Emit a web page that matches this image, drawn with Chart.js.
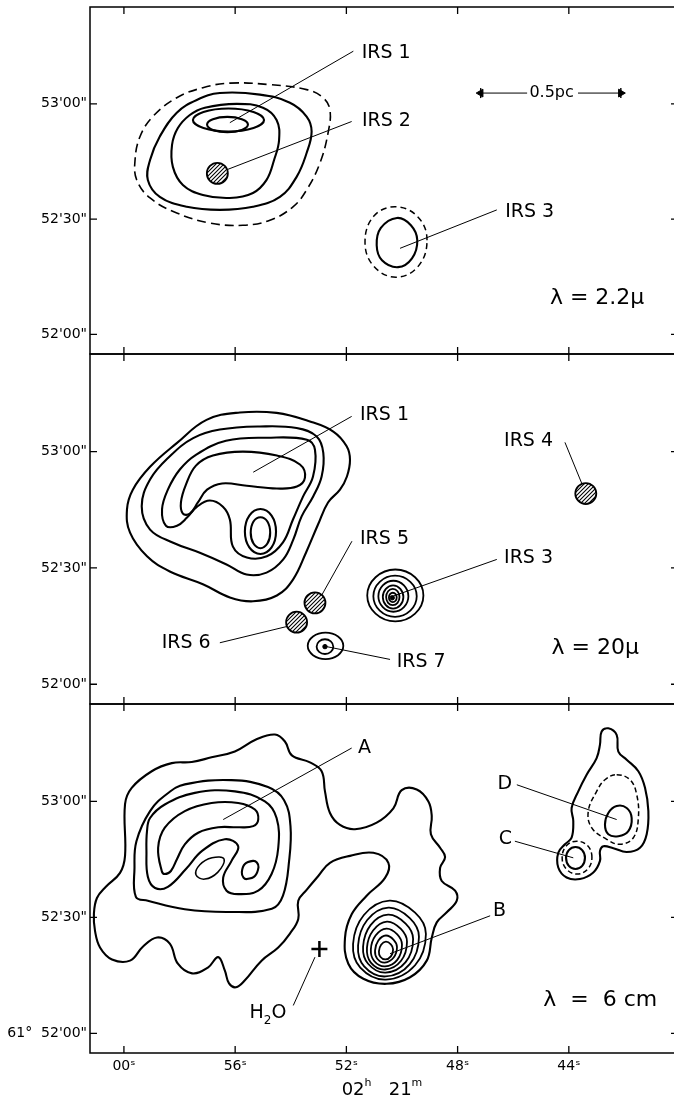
<!DOCTYPE html>
<html>
<head>
<meta charset="utf-8">
<script src="https://cdn.jsdelivr.net/npm/chart.js@4.4.0/dist/chart.umd.min.js"></script>
<style>
  html, body { margin: 0; padding: 0; background: #fff; overflow: hidden; }
  body { width: 674px; height: 1102px; position: relative; }
  canvas { position: absolute; left: 0; }
</style>
</head>
<body>
<canvas id="panel1" width="680" height="356" style="top:0px"></canvas>
<canvas id="panel2" width="680" height="354" style="top:352px"></canvas>
<canvas id="panel3" width="680" height="400" style="top:702px"></canvas>
<script>
// axes: right ascension seconds (02h 21m 00s = 60) and arcsec above 61° 52' 00"
const xTickVals = [60, 56, 52, 48, 44];
const xTickText = ["00", "56", "52", "48", "44"];
const yTickVals = [0, 30, 60];
const yTickText = ["52'00\"", "52'30\"", "53'00\""];
const yTickTextLast = ["61°  52'00\"", "52'30\"", "53'00\""];
const raRange = [40.11, 61.22];
const decRange = [-5.1, 85.2];

// ---- panel 1 : 2.2 micron ----
const p1Dashed = [[56.19,65.4],[54.75,65.0],[53.43,63.7],[52.84,61.6],[52.59,58.4],[52.66,52.4],[52.95,44.6],[53.43,37.6],[53.92,33.2],[54.75,29.7],[55.72,28.4],[56.91,29.0],[58.10,31.6],[59.06,35.5],[59.54,40.2],[59.60,45.4],[59.42,51.5],[58.96,56.7],[58.10,61.6],[57.16,64.2]];
const p1Level1 = [[56.55,62.8],[55.11,62.4],[54.03,60.3],[53.43,56.7],[53.25,52.8],[53.43,47.2],[53.79,41.0],[54.39,35.8],[55.36,33.2],[56.55,32.4],[57.74,33.2],[58.71,35.8],[59.14,40.2],[59.06,45.4],[58.71,51.5],[58.10,57.7],[57.38,61.0]];
const p1Level2 = [[57.09,59.0],[55.94,60.0],[55.00,59.0],[54.51,55.8],[54.42,50.6],[54.60,45.4],[54.87,40.2],[55.36,36.8],[56.19,35.5],[57.16,36.3],[57.88,38.9],[58.24,43.6],[58.27,49.3],[58.06,53.7],[57.63,57.1]];
const p1Level3 = [[54.96,55.8],[55.34,57.9],[56.24,58.8],[57.14,57.9],[57.52,55.8],[57.14,53.7],[56.24,52.8],[55.34,53.7]];
const p1Level4 = [[55.54,54.6],[55.76,56.0],[56.28,56.6],[56.80,56.0],[57.01,54.6],[56.80,53.2],[56.28,52.6],[55.76,53.2]];
const p1Irs3Solid = [[49.45,24.5],[49.68,28.4],[50.18,30.3],[50.76,27.7],[50.91,23.2],[50.72,19.3],[50.14,17.5],[49.64,19.8]];
const p1Irs3Dashed = [[49.10,24.5],[49.42,30.5],[50.22,33.2],[51.01,30.8],[51.33,24.0],[51.01,17.7],[50.22,14.9],[49.42,17.7]];
const p1Sources = [[56.64,41.9]];
const p1Leaders = [[[56.19,55.1],[51.75,73.7]], [[56.64,41.9],[51.81,55.4]], [[50.07,22.4],[46.59,32.4]]];
const p1Labels = [["IRS 1",51.45,73.3], ["IRS 2",51.44,55.4], ["IRS 3",46.29,31.9]];
const scaleBarEnds = [47.17, 42.13];
const scaleBarGap = [45.50, 43.67];
const scaleBarDec = 62.8;
const scaleBarText = ["0.5pc", 44.62];

// ---- panel 2 : 20 micron ----
const p2Level1 = [[58.10,62.2],[57.03,68.2],[55.83,70.1],[54.51,70.0],[53.31,67.8],[52.47,65.2],[51.99,61.4],[51.87,57.9],[51.98,53.6],[52.23,50.2],[52.66,46.9],[53.02,41.2],[53.45,34.0],[53.92,27.0],[54.50,22.9],[55.36,21.4],[56.19,22.4],[57.16,25.8],[58.35,29.1],[59.17,33.0],[59.78,39.1],[59.89,45.1],[59.68,50.2],[59.06,56.1]];
const p2Level2 = [[57.51,63.5],[56.55,65.7],[55.11,66.5],[53.79,66.1],[53.07,63.9],[52.83,59.7],[52.89,53.6],[53.19,48.5],[53.61,43.3],[53.91,37.3],[54.27,32.2],[54.87,28.8],[55.59,28.3],[56.31,30.9],[57.27,33.9],[58.23,36.5],[59.06,39.9],[59.36,45.9],[59.06,52.8],[58.35,58.8]];
const p2Level3 = [[58.49,40.9],[58.63,45.1],[58.42,50.2],[57.99,55.4],[57.41,59.2],[56.33,62.8],[54.86,63.6],[53.42,63.1],[53.13,60.5],[53.20,53.6],[53.56,48.4],[53.92,42.5],[54.28,36.6],[54.86,33.0],[55.58,32.7],[56.08,35.5],[56.19,42.5],[56.44,45.8],[56.91,47.4],[57.37,45.8],[57.73,43.0],[58.09,40.9]];
const p2Level4 = [[57.41,56.4],[56.80,59.0],[55.72,60.0],[54.50,59.0],[53.67,56.7],[53.49,53.3],[53.78,51.0],[54.50,50.5],[55.58,51.2],[56.47,51.8],[57.01,50.2],[57.34,46.9],[57.63,44.0],[57.88,44.0],[57.95,46.9],[57.77,51.5]];
const p2Knot = [
  [[54.53,39.4],[54.69,43.5],[55.09,45.2],[55.49,43.5],[55.65,39.4],[55.49,35.3],[55.09,33.6],[54.69,35.3]],
  [[54.74,39.1],[54.84,42.0],[55.09,43.1],[55.34,42.0],[55.44,39.1],[55.34,36.3],[55.09,35.1],[54.84,36.3]]
];
const p2Irs3Rings = [
  [[49.23,22.9],[49.53,27.6],[50.24,29.6],[50.95,27.6],[51.25,22.9],[50.95,18.2],[50.24,16.2],[49.53,18.2]],
  [[49.47,22.7],[49.70,26.4],[50.25,28.0],[50.80,26.4],[51.03,22.7],[50.80,19.0],[50.25,17.4],[49.70,19.0]],
  [[49.77,22.7],[49.93,25.5],[50.31,26.7],[50.69,25.5],[50.85,22.7],[50.69,19.9],[50.31,18.7],[49.93,19.9]],
  [[49.95,22.5],[50.06,24.6],[50.32,25.5],[50.58,24.6],[50.69,22.5],[50.58,20.4],[50.32,19.5],[50.06,20.4]],
  [[50.09,22.5],[50.16,24.0],[50.33,24.6],[50.50,24.0],[50.57,22.5],[50.50,21.0],[50.33,20.4],[50.16,21.0]],
  [[50.19,22.4],[50.23,23.25],[50.33,23.6],[50.43,23.25],[50.47,22.4],[50.43,21.55],[50.33,21.2],[50.23,21.55]]
];
const p2Irs7Rings = [
  [[52.11,9.9],[52.30,12.3],[52.75,13.3],[53.20,12.3],[53.39,9.9],[53.20,7.5],[52.75,6.5],[52.30,7.5]],
  [[52.47,9.7],[52.56,11.05],[52.77,11.6],[52.98,11.05],[53.07,9.7],[52.98,8.35],[52.77,7.8],[52.56,8.35]]
];
const p2Peaks = [[50.35,22.3],[52.77,9.7]];
const p2Sources = [[53.13,21.0],[53.79,16.0],[43.39,49.2]];
const p2Leaders = [[[55.35,54.7],[51.81,69.1]], [[44.14,62.4],[43.42,49.8]], [[53.01,21.4],[51.80,36.9]], [[50.37,22.6],[46.59,32.2]], [[52.71,9.7],[50.43,6.4]], [[56.55,10.7],[53.79,15.5]]];
const p2Labels = [["IRS 1",51.51,69.5], ["IRS 4",46.33,62.7], ["IRS 5",51.51,37.4], ["IRS 3",46.33,32.5], ["IRS 7",50.19,5.8]];
const p2LabelsRight = [["IRS 6",56.88,10.6]];

// ---- panel 3 : 6 cm ----
const p3Level1 = [[54.57,77.3],[54.21,75.5],[53.96,71.9],[53.31,70.1],[52.89,67.8],[52.77,62.6],[52.59,57.0],[52.23,53.9],[51.69,52.8],[50.91,54.5],[50.31,58.2],[50.01,62.9],[49.47,63.1],[49.05,60.0],[48.93,56.2],[48.96,51.5],[48.63,48.0],[48.45,45.6],[48.63,42.8],[48.57,39.4],[48.09,36.9],[48.03,34.3],[48.39,31.3],[48.75,28.7],[48.93,24.7],[49.11,18.8],[49.71,14.5],[50.55,12.8],[51.39,14.1],[51.93,18.0],[52.05,24.7],[51.81,30.8],[51.27,35.6],[50.61,40.2],[50.49,44.1],[51.03,46.7],[51.87,45.9],[52.59,44.1],[53.01,40.7],[53.43,37.1],[53.73,34.3],[53.73,29.6],[54.03,25.8],[54.45,22.2],[55.05,18.8],[55.65,13.7],[55.97,11.9],[56.22,12.9],[56.37,16.2],[56.61,19.7],[56.98,17.0],[57.55,15.5],[58.06,18.0],[58.35,23.2],[58.81,24.8],[59.32,22.4],[59.78,18.8],[60.43,19.1],[60.86,22.2],[61.04,26.5],[61.08,30.9],[60.97,35.0],[60.65,37.9],[60.14,41.5],[59.96,45.9],[59.96,59.3],[59.72,63.5],[59.00,67.8],[58.28,69.9],[57.56,70.2],[56.85,71.4],[56.01,72.9],[55.25,76.0]];
const p3Level2 = [[57.81,64.4],[56.13,65.5],[54.82,63.7],[54.24,60.3],[54.01,53.6],[54.06,44.6],[54.28,35.6],[54.68,32.2],[56.26,31.4],[57.81,32.1],[59.14,34.3],[59.57,35.3],[59.62,42.8],[59.55,49.7],[59.06,57.5],[58.42,62.1]];
const p3Level3 = [[59.06,55.7],[58.53,59.2],[57.45,62.2],[56.01,62.6],[54.93,60.0],[54.51,55.7],[54.45,48.0],[54.69,41.2],[55.17,36.9],[55.89,36.0],[56.31,36.9],[56.43,40.3],[56.13,44.6],[55.89,48.4],[56.37,50.2],[57.19,47.2],[57.77,42.5],[58.42,37.9],[58.88,37.6],[59.14,40.5],[59.19,47.2],[59.17,52.3]];
const p3Level4 = [[58.64,42.0],[58.77,48.0],[58.53,53.2],[57.81,57.5],[56.85,59.6],[55.89,59.6],[55.29,57.9],[55.17,55.3],[55.35,53.6],[55.89,53.3],[56.61,53.3],[57.33,51.9],[57.81,48.9],[58.09,45.1],[58.31,42.0],[58.53,41.2]];
const p3Knot = [[55.36,44.6],[55.22,44.2],[55.16,43.0],[55.29,40.7],[55.58,39.9],[55.70,40.3],[55.76,41.7],[55.65,43.8]];
const p3Hollow = [[56.40,45.1],[56.83,45.4],[57.27,43.6],[57.41,41.0],[57.09,39.9],[56.62,41.7]];
const p3BRings = [
  [[50.45,34.3],[49.53,31.2],[49.14,25.7],[49.53,17.6],[50.58,13.9],[51.50,17.0],[51.76,23.1],[51.37,30.6]],
  [[50.49,32.5],[49.72,29.8],[49.39,25.0],[49.72,17.9],[50.59,14.7],[51.36,17.3],[51.58,22.7],[51.25,29.3]],
  [[50.50,30.7],[49.87,28.4],[49.60,24.4],[49.87,18.4],[50.59,15.7],[51.22,18.0],[51.40,22.4],[51.13,28.0]],
  [[50.54,28.9],[50.04,27.0],[49.82,23.7],[50.04,18.7],[50.61,16.5],[51.12,18.3],[51.26,22.1],[51.04,26.6]],
  [[50.56,27.1],[50.17,25.6],[50.00,22.9],[50.17,19.0],[50.61,17.3],[51.00,18.7],[51.12,21.7],[50.95,25.3]],
  [[50.58,25.3],[50.30,24.2],[50.18,22.3],[50.30,19.6],[50.62,18.3],[50.89,19.3],[50.97,21.4],[50.85,24.0]],
  [[50.58,23.7],[50.40,23.0],[50.32,21.7],[50.40,19.9],[50.60,19.1],[50.78,19.8],[50.83,21.2],[50.75,22.9]]
];
const p3CDLevel1 = [[42.58,78.9],[42.28,77.2],[42.22,72.9],[41.92,70.8],[41.50,67.8],[41.26,63.5],[41.14,57.5],[41.20,51.5],[41.44,48.0],[41.92,46.9],[42.40,47.9],[42.76,48.4],[42.88,47.2],[42.88,44.6],[43.12,41.6],[43.60,39.9],[44.08,40.3],[44.38,42.9],[44.38,46.7],[44.14,48.9],[43.90,50.6],[43.84,54.9],[43.90,58.3],[43.66,62.6],[43.36,66.9],[43.00,71.2],[42.88,74.7],[42.82,78.1]];
const p3DDashed = [[42.28,66.9],[41.80,65.6],[41.56,61.8],[41.50,55.7],[41.68,50.6],[42.16,48.9],[42.64,50.2],[43.18,53.2],[43.30,57.5],[43.00,62.6],[42.70,65.6]];
const p3DSolid = [[42.28,58.8],[41.92,58.3],[41.74,55.7],[41.86,52.3],[42.22,51.0],[42.58,51.5],[42.70,54.0],[42.58,57.0]];
const p3CDashed = [[43.17,45.5],[43.32,48.5],[43.71,49.7],[44.09,48.5],[44.24,45.5],[44.09,42.5],[43.71,41.2],[43.32,42.5]];
const p3CSolid = [[43.42,45.4],[43.52,47.4],[43.76,48.2],[44.00,47.4],[44.10,45.4],[44.00,43.3],[43.76,42.5],[43.52,43.3]];
const p3Maser = [[52.97,21.8]];
const p3Leaders = [[[56.43,55.3],[51.81,73.8]], [[50.43,20.6],[46.83,30.4]], [[43.84,45.4],[45.94,49.7]], [[42.28,55.3],[45.87,64.3]], [[53.13,19.7],[53.91,7.2]]];
const p3Labels = [["A",51.58,73.8], ["B",46.73,31.7]];
const p3LabelsRight = [["C",46.04,50.2], ["D",46.04,64.4]];
const xTitleAt = [50.72, -14.7];

const lambdas = [["λ = 2.2μ",44.68,9.4], ["λ = 20μ",44.62,9.4], ["λ  =  6 cm",44.92,8.5]];

// ---------------------------------------------------------------
const FONT = '"DejaVu Sans", "Liberation Sans", sans-serif';

function pts(list) {
  return list.map(p => ({ x: p[0], y: p[1] }));
}

// closed contour: wrap the ends so the spline is smooth all round, hide the two wrap segments
function contour(list, extra) {
  const p = pts(list);
  const d = [p[p.length - 1], ...p, p[0], p[1]];
  return Object.assign({
    data: d, showLine: true, pointRadius: 0, borderColor: "#000", borderWidth: 2.1, tension: 0.4,
    segment: {
      borderColor: ctx => (ctx.p0DataIndex === 0 || ctx.p1DataIndex === d.length - 1) ? "rgba(0,0,0,0)" : undefined
    }
  }, extra || {});
}

function leader(seg) {
  return { data: pts(seg), showLine: true, pointRadius: 0, borderColor: "#000", borderWidth: 1, tension: 0 };
}

let hatchPattern = null;
function hatch() {
  if (hatchPattern) return hatchPattern;
  const c = document.createElement("canvas");
  c.width = 4; c.height = 4;
  const g = c.getContext("2d");
  g.fillStyle = "#fff"; g.fillRect(0, 0, 4, 4);
  g.strokeStyle = "#000"; g.lineWidth = 1.1;
  g.beginPath();
  g.moveTo(0, 4); g.lineTo(4, 0);
  g.moveTo(-1, 1); g.lineTo(1, -1);
  g.moveTo(3, 5); g.lineTo(5, 3);
  g.stroke();
  hatchPattern = g.createPattern(c, "repeat");
  return hatchPattern;
}

function hatched(list) {
  return { data: pts(list), showLine: false, pointRadius: 10.5, pointBackgroundColor: hatch(), pointBorderColor: "#000", pointBorderWidth: 1.8 };
}

const dashedBig = { borderWidth: 1.6, borderDash: [9, 5] };
const dashedSmall = { borderWidth: 1.5, borderDash: [5, 3] };

const framePlugin = {
  id: "frame",
  afterDatasetsDraw(chart) {
    const { ctx, chartArea: a, scales: { x, y } } = chart;
    ctx.save();
    ctx.strokeStyle = "#000";
    ctx.lineWidth = 1.5;
    ctx.strokeRect(a.left, a.top, a.right - a.left, a.bottom - a.top);
    ctx.lineWidth = 1.3;
    ctx.beginPath();
    x.ticks.forEach(t => {
      const px = x.getPixelForValue(t.value);
      ctx.moveTo(px, a.top); ctx.lineTo(px, a.top + 7);
      ctx.moveTo(px, a.bottom); ctx.lineTo(px, a.bottom - 7);
    });
    y.ticks.forEach(t => {
      const py = y.getPixelForValue(t.value);
      ctx.moveTo(a.left, py); ctx.lineTo(a.left + 7, py);
      ctx.moveTo(a.right, py); ctx.lineTo(a.right - 6, py);
    });
    ctx.stroke();
    ctx.restore();
  }
};

function drawRuns(ctx, runs, px, py, size, align) {
  const fontOf = r => ((r.sub || r.sup) ? Math.round(size * 0.62) : size) + "px " + FONT;
  let w = 0;
  runs.forEach(r => { ctx.font = fontOf(r); w += ctx.measureText(r.t).width; });
  let cx = align === "left" ? px : align === "right" ? px - w : px - w / 2;
  ctx.textAlign = "left";
  runs.forEach(r => {
    ctx.font = fontOf(r);
    const dy = r.sub ? size * 0.38 : r.sup ? -size * 0.38 : 0;
    ctx.fillText(r.t, cx, py + dy);
    cx += ctx.measureText(r.t).width;
  });
}

function textPlugin(items) {
  return {
    id: "figText",
    afterDatasetsDraw(chart) {
      const { ctx, scales: { x, y } } = chart;
      ctx.save();
      ctx.fillStyle = "#000";
      ctx.textBaseline = "middle";
      items.forEach(it => {
        drawRuns(ctx, it.runs || [{ t: it.t }], x.getPixelForValue(it.x), y.getPixelForValue(it.y), it.size || 19, it.align || "left");
      });
      ctx.restore();
    }
  };
}

function noPad(s) {
  s.paddingLeft = 0; s.paddingRight = 0; s.paddingTop = 0; s.paddingBottom = 0;
}

function makePanel(id, datasets, items, o) {
  return new Chart(document.getElementById(id), {
    type: "scatter",
    data: { datasets },
    options: {
      responsive: false,
      animation: false,
      events: [],
      layout: { padding: o.padding, autoPadding: false },
      plugins: { legend: { display: false }, tooltip: { enabled: false } },
      scales: {
        x: {
          type: "linear", reverse: true, min: raRange[0], max: raRange[1],
          grid: { display: false, drawTicks: false }, border: { display: false },
          afterBuildTicks: s => { s.ticks = xTickVals.map(v => ({ value: v })); },
          afterFit: s => { s.height = o.xHeight; noPad(s); },
          ticks: {
            display: o.xLabels, autoSkip: false, maxRotation: 0, padding: 5, color: "#000",
            font: { family: FONT, size: 14 },
            callback: v => xTickText[xTickVals.indexOf(v)] + "ˢ"
          }
        },
        y: {
          type: "linear", min: decRange[0], max: decRange[1],
          grid: { display: false, drawTicks: false }, border: { display: false },
          afterBuildTicks: s => { s.ticks = yTickVals.map(v => ({ value: v })); },
          afterFit: s => { s.width = 90; noPad(s); },
          ticks: {
            autoSkip: false, padding: 3, color: "#000",
            font: { family: FONT, size: 14 },
            callback: v => o.yText[yTickVals.indexOf(v)]
          }
        }
      }
    },
    plugins: [framePlugin, textPlugin(items)]
  });
}

function labelItems(list, align) {
  return list.map(l => ({ t: l[0], x: l[1], y: l[2], align: align || "left" }));
}

// ---- panel 1 ----
const p1Data = [
  hatched(p1Sources),
  ...p1Leaders.map(leader),
  contour(p1Dashed, dashedBig),
  contour(p1Level1), contour(p1Level2), contour(p1Level3), contour(p1Level4),
  contour(p1Irs3Solid), contour(p1Irs3Dashed, { borderWidth: 1.5, borderDash: [6, 4] }),
  leader([[scaleBarEnds[0], scaleBarDec], [scaleBarGap[0], scaleBarDec]]),
  leader([[scaleBarGap[1], scaleBarDec], [scaleBarEnds[1], scaleBarDec]]),
  { data: pts(scaleBarEnds.map(v => [v, scaleBarDec])), pointStyle: "line", pointRotation: 90, pointRadius: 5, pointBorderColor: "#000", pointBorderWidth: 1.4 },
  { data: pts(scaleBarEnds.map(v => [v, scaleBarDec])), pointStyle: "triangle", pointRotation: [270, 90], pointRadius: 4.5, pointBackgroundColor: "#000", pointBorderColor: "#000", pointBorderWidth: 1 }
];
const p1Text = [
  ...labelItems(p1Labels),
  { t: scaleBarText[0], x: scaleBarText[1], y: scaleBarDec, align: "center", size: 16 },
  { t: lambdas[0][0], x: lambdas[0][1], y: lambdas[0][2], size: 22 }
];
makePanel("panel1", p1Data, p1Text, { padding: { top: 7, right: 3, bottom: 2, left: 0 }, xHeight: 0, xLabels: false, yText: yTickText });

// ---- panel 2 ----
const p2Data = [
  hatched(p2Sources),
  { data: pts(p2Peaks), pointRadius: 2.2, pointBackgroundColor: "#000", pointBorderColor: "#000" },
  ...p2Leaders.map(leader),
  contour(p2Level1), contour(p2Level2), contour(p2Level3), contour(p2Level4),
  ...p2Knot.map(r => contour(r)),
  ...p2Irs3Rings.map(r => contour(r, { borderWidth: 1.8 })),
  ...p2Irs7Rings.map(r => contour(r, { borderWidth: 1.8 }))
];
const p2Text = [
  ...labelItems(p2Labels),
  ...labelItems(p2LabelsRight, "right"),
  { t: lambdas[1][0], x: lambdas[1][1], y: lambdas[1][2], size: 22 }
];
makePanel("panel2", p2Data, p2Text, { padding: { top: 2, right: 3, bottom: 2, left: 0 }, xHeight: 0, xLabels: false, yText: yTickText });

// ---- panel 3 ----
const p3Data = [
  { data: pts(p3Maser), pointStyle: "cross", pointRadius: 8, pointBorderColor: "#000", pointBorderWidth: 2.5 },
  ...p3Leaders.map(leader),
  contour(p3Level1), contour(p3Level2), contour(p3Level3), contour(p3Level4),
  contour(p3Knot), contour(p3Hollow, { borderWidth: 1.5 }),
  ...p3BRings.map(r => contour(r, { borderWidth: 1.8 })),
  contour(p3CDLevel1), contour(p3DDashed, dashedSmall), contour(p3DSolid),
  contour(p3CDashed, dashedSmall), contour(p3CSolid)
];
const p3Text = [
  ...labelItems(p3Labels),
  ...labelItems(p3LabelsRight, "right"),
  { runs: [{ t: "H" }, { t: "2", sub: true }, { t: "O" }], x: 54.82, y: 5.2, align: "center" },
  { t: lambdas[2][0], x: lambdas[2][1], y: lambdas[2][2], size: 22 },
  { runs: [{ t: "02" }, { t: "h", sup: true }, { t: "   21" }, { t: "m", sup: true }], x: xTitleAt[0], y: xTitleAt[1], align: "center", size: 18 }
];
makePanel("panel3", p3Data, p3Text, { padding: { top: 2, right: 3, bottom: 0, left: 0 }, xHeight: 49, xLabels: true, yText: yTickTextLast });
</script>
</body>
</html>
